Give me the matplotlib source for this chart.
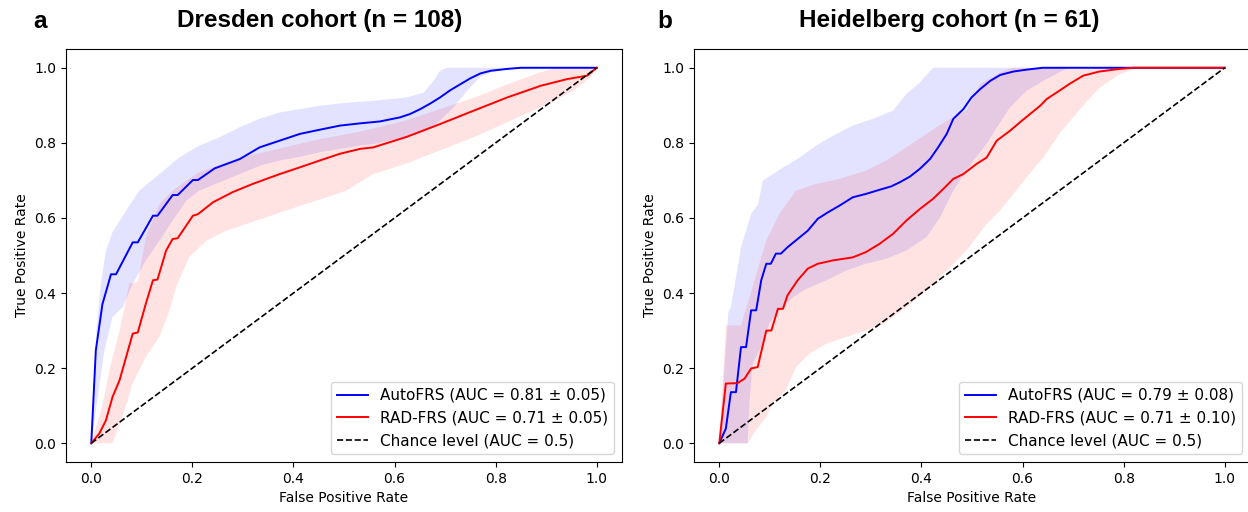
import matplotlib.pyplot as plt
import numpy as np

# region data: Dresden cohort
dres_auto_x = [0, 0.009, 0.022, 0.039, 0.049, 0.082, 0.092, 0.122, 0.131, 0.161, 0.171, 0.201, 0.211,
               0.244, 0.294, 0.333, 0.373, 0.413, 0.452, 0.492, 0.532, 0.571, 0.611, 0.631, 0.651,
               0.671, 0.69, 0.71, 0.73, 0.75, 0.77, 0.79, 0.823, 0.85, 1.0]
dres_auto_y = [0, 0.247, 0.37, 0.45, 0.45, 0.535, 0.535, 0.606, 0.606, 0.661, 0.661, 0.701, 0.701,
               0.732, 0.757, 0.788, 0.806, 0.824, 0.835, 0.846, 0.852, 0.857, 0.868, 0.877, 0.89,
               0.905, 0.921, 0.94, 0.956, 0.972, 0.985, 0.992, 0.997, 1.0, 1.0]
dres_auto_hi_x = [0, 0.01, 0.019, 0.029, 0.042, 0.069, 0.095, 0.135, 0.175, 0.214, 0.254, 0.294,
                  0.333, 0.373, 0.413, 0.452, 0.492, 0.532, 0.558, 0.624, 0.658, 0.677, 0.69, 0.704, 1.0]
dres_auto_hi_y = [0, 0.3, 0.425, 0.513, 0.562, 0.62, 0.673, 0.717, 0.762, 0.793, 0.815, 0.842,
                  0.864, 0.881, 0.89, 0.899, 0.905, 0.91, 0.912, 0.921, 0.934, 0.965, 0.992, 1.0, 1.0]
dres_auto_lo_x = [0, 0.026, 0.042, 0.062, 0.082, 0.108, 0.135, 0.161, 0.188, 0.214, 0.254, 0.294,
                  0.333, 0.373, 0.413, 0.452, 0.492, 0.532, 0.558, 0.624, 0.664, 0.69, 0.717, 0.744,
                  0.77, 0.797, 0.835, 0.87, 1.0]
dres_auto_lo_y = [0, 0.247, 0.336, 0.362, 0.425, 0.487, 0.54, 0.593, 0.646, 0.673, 0.695, 0.717,
                  0.739, 0.753, 0.763, 0.775, 0.784, 0.793, 0.797, 0.815, 0.832, 0.859, 0.895, 0.939,
                  0.976, 0.99, 0.997, 1.0, 1.0]

dres_rad_x = [0, 0.016, 0.029, 0.042, 0.056, 0.069, 0.082, 0.092, 0.108, 0.122, 0.131, 0.148, 0.161,
              0.171, 0.201, 0.211, 0.241, 0.28, 0.32, 0.373, 0.413, 0.452, 0.492, 0.532, 0.558,
              0.624, 0.69, 0.757, 0.823, 0.889, 0.942, 0.981, 1.0]
dres_rad_y = [0, 0.026, 0.061, 0.123, 0.168, 0.23, 0.292, 0.295, 0.372, 0.434, 0.436, 0.513, 0.544,
              0.546, 0.606, 0.61, 0.642, 0.669, 0.691, 0.717, 0.735, 0.753, 0.771, 0.784, 0.788,
              0.816, 0.85, 0.886, 0.921, 0.952, 0.97, 0.979, 1.0]
dres_rad_hi_x = [0, 0.02, 0.039, 0.056, 0.075, 0.092, 0.108, 0.135, 0.161, 0.188, 0.214, 0.294,
                 0.373, 0.452, 0.532, 0.624, 0.69, 0.757, 0.823, 0.889, 0.92, 1.0]
dres_rad_hi_y = [0, 0.09, 0.212, 0.3, 0.425, 0.43, 0.549, 0.637, 0.673, 0.699, 0.722, 0.76,
                 0.785, 0.81, 0.83, 0.86, 0.89, 0.92, 0.956, 0.988, 1.0, 1.0]
dres_rad_lo_x = [0, 0.042, 0.062, 0.082, 0.108, 0.135, 0.155, 0.168, 0.194, 0.228, 0.267, 0.307,
                 0.347, 0.386, 0.426, 0.466, 0.505, 0.558, 0.624, 0.69, 0.757, 0.823, 0.889, 0.955,
                 0.988, 1.0]
dres_rad_lo_y = [0, 0, 0.071, 0.16, 0.23, 0.284, 0.355, 0.416, 0.496, 0.54, 0.566, 0.584,
                 0.602, 0.62, 0.638, 0.655, 0.673, 0.717, 0.745, 0.78, 0.815, 0.855, 0.895, 0.939,
                 0.976, 1.0]
# endregion

# region data: Heidelberg cohort
heid_auto_x = [0, 0.013, 0.023, 0.033, 0.043, 0.053, 0.063, 0.073, 0.083, 0.093, 0.102, 0.112, 0.122,
               0.135, 0.155, 0.175, 0.195, 0.215, 0.238, 0.264, 0.29, 0.317, 0.34, 0.357, 0.377,
               0.397, 0.417, 0.433, 0.45, 0.463, 0.483, 0.499, 0.516, 0.536, 0.556, 0.582, 0.608,
               0.64, 1.0]
heid_auto_y = [0, 0.039, 0.136, 0.136, 0.256, 0.256, 0.354, 0.354, 0.434, 0.478, 0.478, 0.505, 0.505,
               0.522, 0.544, 0.566, 0.598, 0.615, 0.633, 0.655, 0.664, 0.675, 0.684, 0.695, 0.71,
               0.731, 0.757, 0.788, 0.824, 0.864, 0.89, 0.921, 0.943, 0.965, 0.981, 0.99, 0.995,
               1.0, 1.0]
heid_auto_hi_x = [0, 0.018, 0.023, 0.043, 0.063, 0.077, 0.086, 0.106, 0.132, 0.159, 0.192, 0.225,
                  0.264, 0.304, 0.344, 0.37, 0.397, 0.423, 1.0]
heid_auto_hi_y = [0, 0.35, 0.362, 0.522, 0.611, 0.637, 0.699, 0.717, 0.739, 0.761, 0.793, 0.819,
                  0.846, 0.864, 0.886, 0.93, 0.961, 1.0, 1.0]
heid_auto_lo_x = [0, 0.056, 0.06, 0.066, 0.083, 0.099, 0.119, 0.146, 0.172, 0.212, 0.251, 0.29,
                  0.33, 0.37, 0.41, 0.437, 0.463, 0.489, 0.503, 0.529, 0.549, 0.575, 0.608, 0.641,
                  0.673, 0.69, 1.0]
heid_auto_lo_y = [0, 0, 0.114, 0.212, 0.256, 0.318, 0.354, 0.389, 0.411, 0.434, 0.46, 0.478,
                  0.491, 0.513, 0.549, 0.602, 0.673, 0.726, 0.753, 0.797, 0.841, 0.894, 0.939, 0.965,
                  0.988, 1.0, 1.0]

heid_rad_x = [0, 0.013, 0.036, 0.05, 0.063, 0.076, 0.093, 0.103, 0.116, 0.126, 0.135, 0.155, 0.175,
              0.195, 0.225, 0.264, 0.29, 0.317, 0.344, 0.37, 0.397, 0.423, 0.443, 0.463, 0.483,
              0.509, 0.529, 0.549, 0.575, 0.595, 0.615, 0.635, 0.648, 0.673, 0.694, 0.72, 0.752,
              0.792, 0.82, 1.0]
heid_rad_y = [0, 0.159, 0.16, 0.172, 0.199, 0.203, 0.3, 0.3, 0.358, 0.358, 0.394, 0.434, 0.465,
              0.478, 0.487, 0.495, 0.509, 0.531, 0.558, 0.593, 0.624, 0.651, 0.677, 0.704, 0.717,
              0.744, 0.761, 0.806, 0.832, 0.855, 0.877, 0.899, 0.917, 0.939, 0.958, 0.979, 0.99,
              0.997, 1.0, 1.0]
heid_rad_hi_x = [0, 0.013, 0.043, 0.06, 0.093, 0.119, 0.152, 0.192, 0.238, 0.29, 0.33, 0.37,
                 0.41, 0.45, 0.489, 0.516, 0.556, 0.58, 1.0]
heid_rad_hi_y = [0, 0.314, 0.314, 0.389, 0.54, 0.611, 0.673, 0.691, 0.704, 0.726, 0.753, 0.788,
                 0.824, 0.859, 0.886, 0.956, 0.988, 1.0, 1.0]
heid_rad_lo_x = [0, 0.056, 0.073, 0.093, 0.106, 0.132, 0.152, 0.179, 0.212, 0.251, 0.29, 0.33,
                 0.37, 0.41, 0.45, 0.489, 0.529, 0.556, 0.582, 0.608, 0.641, 0.673, 0.7, 0.728,
                 0.754, 0.787, 0.82, 0.84, 1.0]
heid_rad_lo_y = [0, 0, 0.035, 0.07, 0.106, 0.141, 0.203, 0.239, 0.265, 0.283, 0.3, 0.323,
                 0.362, 0.407, 0.46, 0.513, 0.584, 0.62, 0.664, 0.708, 0.761, 0.824, 0.868, 0.912,
                 0.948, 0.979, 0.997, 1.0, 1.0]
# endregion

titles = ["Dresden cohort (n = 108)", "Heidelberg cohort (n = 61)"]
letters = ["a", "b"]
auc_auto = ["0.81 ± 0.05", "0.79 ± 0.08"]
auc_rad = ["0.71 ± 0.05", "0.71 ± 0.10"]

panels = [
    (dres_auto_x, dres_auto_y, dres_auto_hi_x, dres_auto_hi_y, dres_auto_lo_x, dres_auto_lo_y,
     dres_rad_x, dres_rad_y, dres_rad_hi_x, dres_rad_hi_y, dres_rad_lo_x, dres_rad_lo_y),
    (heid_auto_x, heid_auto_y, heid_auto_hi_x, heid_auto_hi_y, heid_auto_lo_x, heid_auto_lo_y,
     heid_rad_x, heid_rad_y, heid_rad_hi_x, heid_rad_hi_y, heid_rad_lo_x, heid_rad_lo_y),
]

fig = plt.figure(figsize=(12.48, 5.12), dpi=100)
W, H = 1248, 512
ax_left = [66, 694]
title_x = [320, 949]
letter_x = [40, 665]


def band(ax, hx, hy, lx, ly, color):
    # polygon: upper edge, then lower edge reversed
    px = list(hx) + list(lx)[::-1]
    py = list(hy) + list(ly)[::-1]
    ax.fill(px, py, color=color, alpha=0.11, lw=0)


for i, p in enumerate(panels):
    ax = fig.add_axes([ax_left[i] / W, 50 / H, 556 / W, 413 / H])
    ax_x, ax_y, ahx, ahy, alx, aly, rx, ry, rhx, rhy, rlx, rly = p
    band(ax, ahx, ahy, alx, aly, "blue")
    band(ax, rhx, rhy, rlx, rly, "red")
    ax.plot(ax_x, ax_y, color="blue", lw=1.4, label=f"AutoFRS (AUC = {auc_auto[i]})")
    ax.plot(rx, ry, color="red", lw=1.4, label=f"RAD-FRS (AUC = {auc_rad[i]})")
    ax.plot([0, 1], [0, 1], "k--", lw=1.2, label="Chance level (AUC = 0.5)")
    ax.set_xlim(-0.05, 1.05)
    ax.set_ylim(-0.05, 1.05)
    ax.set_xlabel("False Positive Rate")
    ax.set_ylabel("True Positive Rate")
    ax.legend(loc="lower right", fontsize=11)
    fig.text(title_x[i] / W, 1 - 21 / H, titles[i], ha="center", va="center",
             fontsize=17.5, fontweight="bold", family="Liberation Sans")
    fig.text(letter_x[i] / W, 1 - 21 / H, letters[i], ha="center", va="center",
             fontsize=17.5, fontweight="bold", family="Liberation Sans")

fig.savefig("out.png", dpi=100)
